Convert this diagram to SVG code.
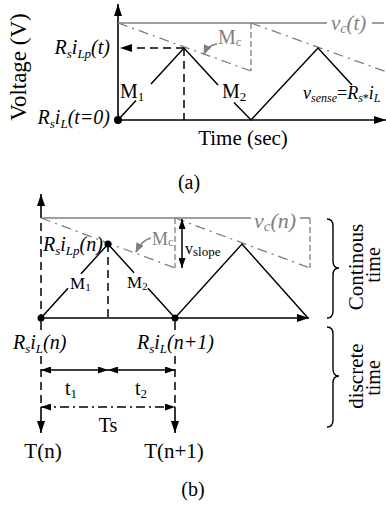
<svg xmlns="http://www.w3.org/2000/svg" width="386" height="507" viewBox="0 0 386 507">
<style>
text{font-family:"Liberation Serif","Times New Roman",serif;fill:#000}
.it{font-style:italic}
.gt{fill:#7f7f7f}
.ln{stroke:#000;stroke-width:1.5;fill:none}
.ax{stroke:#000;stroke-width:1.6;fill:none}
.dash{stroke:#000;stroke-width:1.5;fill:none;stroke-dasharray:8 5}
.dd{stroke:#000;stroke-width:1.3;fill:none;stroke-dasharray:9 4 2 4}
.gl{stroke:#7f7f7f;stroke-width:1.5;fill:none}
.gdd{stroke:#7f7f7f;stroke-width:1.3;fill:none;stroke-dasharray:10 5 2 5}
.gdash{stroke:#7f7f7f;stroke-width:1.3;fill:none;stroke-dasharray:6 3}
.br{stroke:#000;stroke-width:1.4;fill:none}
</style>
<defs>
<marker id="ah" viewBox="0 0 12 8" refX="12" refY="4" markerWidth="12" markerHeight="8" markerUnits="userSpaceOnUse" orient="auto-start-reverse"><path d="M0,0 L12,4 L0,8 z" fill="#000"/></marker>
<marker id="ahs" viewBox="0 0 10 7" refX="10" refY="3.5" markerWidth="10" markerHeight="7" markerUnits="userSpaceOnUse" orient="auto-start-reverse"><path d="M0,0 L10,3.5 L0,7 z" fill="#000"/></marker>
<marker id="ahg" viewBox="0 0 10 8" refX="9" refY="4" markerWidth="10" markerHeight="8" markerUnits="userSpaceOnUse" orient="auto"><path d="M0,0 L10,4 L0,8 z" fill="#7f7f7f"/></marker>
</defs>

<g id="connectors">
<!-- panel (a) -->
<line class="ax" x1="118" y1="120" x2="118" y2="4" marker-end="url(#ah)"/>
<line class="ax" x1="118" y1="120" x2="386" y2="120" marker-end="url(#ah)"/>
<line class="gl" x1="118" y1="23" x2="327" y2="23"/>
<line class="gl" x1="372" y1="23" x2="384" y2="23"/>
<line class="gdd" x1="118" y1="23" x2="251" y2="71"/>
<line class="gdash" x1="251" y1="23" x2="251" y2="71"/>
<line class="gdd" x1="251" y1="23" x2="386" y2="71.7"/>
<polyline class="ln" points="118,120 136,100.4"/>
<polyline class="ln" points="151,84 184,48 218,85"/>
<polyline class="ln" points="234,102.5 251,120 318,48 352,85"/>
<line class="dash" x1="184" y1="48" x2="120" y2="48" marker-end="url(#ah)"/>
<line class="dash" x1="184" y1="48" x2="184" y2="120"/>
<path class="gl" d="M217,44 Q208,45 204,54" marker-end="url(#ahg)"/>
<circle cx="118" cy="120" r="4" fill="#000"/>

<!-- panel (b) -->
<line class="ax" x1="41" y1="218" x2="41" y2="194" marker-end="url(#ah)"/>
<line class="ax" x1="41" y1="318" x2="309" y2="318" marker-end="url(#ah)"/>
<line class="gl" x1="41" y1="218" x2="251" y2="218"/>
<line class="gl" x1="300" y1="218" x2="310" y2="218"/>
<line class="gdash" x1="310" y1="218" x2="310" y2="268"/>
<line class="gdd" x1="41" y1="218" x2="175" y2="268"/>
<line class="gdash" x1="175" y1="218" x2="175" y2="268"/>
<line class="gdd" x1="175" y1="218" x2="310" y2="268"/>
<line class="dash" x1="41" y1="223" x2="41" y2="318"/>
<line class="dash" x1="108" y1="244" x2="108" y2="318"/>
<polyline class="ln" points="41,318 68,288.2"/>
<polyline class="ln" points="81,273.8 108,244 134,272.7"/>
<polyline class="ln" points="148,288.2 175,318 242,244 308,318"/>
<line class="ln" x1="182" y1="219" x2="182" y2="268" marker-start="url(#ahs)" marker-end="url(#ahs)"/>
<path class="gl" d="M151,238 Q142,240 136,252" marker-end="url(#ahg)"/>
<circle cx="41" cy="318" r="3.5" fill="#000"/>
<circle cx="108" cy="244" r="3.5" fill="#000"/>
<circle cx="175" cy="318" r="3.5" fill="#000"/>
<line class="ln" x1="41" y1="318" x2="41" y2="330"/>
<line class="ln" x1="175" y1="318" x2="175" y2="330"/>
<line class="dash" x1="41" y1="356" x2="41" y2="407"/>
<line class="dash" x1="175" y1="356" x2="175" y2="407"/>
<line class="ln" x1="41" y1="370" x2="108" y2="370" marker-start="url(#ahs)" marker-end="url(#ahs)"/>
<line class="ln" x1="108" y1="370" x2="175" y2="370" marker-start="url(#ahs)" marker-end="url(#ahs)"/>
<line class="dd" x1="41" y1="407" x2="175" y2="407" marker-start="url(#ahs)" marker-end="url(#ahs)"/>
<line class="ax" x1="41" y1="407" x2="41" y2="433" marker-end="url(#ah)"/>
<line class="ax" x1="175" y1="407" x2="175" y2="433" marker-end="url(#ah)"/>
<path class="br" d="M327,219 Q333,219 333,226 L333,261 Q333,268 339,268 Q333,268 333,275 L333,311 Q333,318 327,318"/>
<path class="br" d="M327,327 Q333,327 333,334 L333,369 Q333,376 339,376 Q333,376 333,383 L333,420 Q333,427 327,427"/>
</g>

<g id="panel-a-labels">
<text x="26" y="67" font-size="23" text-anchor="middle" transform="rotate(-90 26 67)">Voltage (V)</text>
<text class="it" x="110" y="54" font-size="20" text-anchor="end">R<tspan font-size="13" dy="4">s</tspan><tspan dy="-4">i</tspan><tspan font-size="13" dy="4">Lp</tspan><tspan dy="-4">(t)</tspan></text>
<text class="it" x="110" y="124" font-size="20" text-anchor="end">R<tspan font-size="13" dy="4">s</tspan><tspan dy="-4">i</tspan><tspan font-size="13" dy="4">L</tspan><tspan dy="-4">(t=0)</tspan></text>
<text x="120" y="98" font-size="20">M<tspan font-size="13" dy="3">1</tspan></text>
<text x="222" y="98" font-size="20">M<tspan font-size="13" dy="3">2</tspan></text>
<text class="gt" x="218" y="44" font-size="20">M<tspan font-size="13" dy="2">c</tspan></text>
<text class="it gt" x="331" y="30" font-size="21">v<tspan font-size="14" dy="3">c</tspan><tspan dy="-3">(t)</tspan></text>
<text x="303" y="99" font-size="18"><tspan class="it">v</tspan><tspan class="it" font-size="12" dy="3">sense</tspan><tspan dy="-3">=</tspan><tspan class="it">R</tspan><tspan class="it" font-size="12" dy="3">s</tspan><tspan font-size="12">*</tspan><tspan class="it" dy="-3">i</tspan><tspan class="it" font-size="12" dy="3">L</tspan></text>
<text x="243" y="145" font-size="21" text-anchor="middle">Time (sec)</text>
<text x="189" y="189" font-size="20" text-anchor="middle">(a)</text>
</g>

<g id="panel-b-labels">
<text class="it" x="43" y="251" font-size="20">R<tspan font-size="13" dy="4">s</tspan><tspan dy="-4">i</tspan><tspan font-size="13" dy="4">Lp</tspan><tspan dy="-4">(n)</tspan></text>
<text x="70" y="289" font-size="17">M<tspan font-size="11" dy="2">1</tspan></text>
<text x="127" y="288" font-size="17">M<tspan font-size="11" dy="2">2</tspan></text>
<text class="gt" x="152" y="245" font-size="18">M<tspan font-size="12" dy="1">c</tspan></text>
<text x="185" y="254" font-size="16">v<tspan font-size="13" dy="2">slope</tspan></text>
<text class="it gt" x="254" y="228" font-size="22">v<tspan font-size="15" dy="3">c</tspan><tspan dy="-3">(n)</tspan></text>
<text class="it" x="13" y="349" font-size="20">R<tspan font-size="13" dy="4">s</tspan><tspan dy="-4">i</tspan><tspan font-size="13" dy="4">L</tspan><tspan dy="-4">(n)</tspan></text>
<text class="it" x="137" y="349" font-size="20">R<tspan font-size="13" dy="4">s</tspan><tspan dy="-4">i</tspan><tspan font-size="13" dy="4">L</tspan><tspan dy="-4">(n+1)</tspan></text>
<text x="65" y="395" font-size="20">t<tspan font-size="13" dy="3">1</tspan></text>
<text x="135" y="395" font-size="20">t<tspan font-size="13" dy="3">2</tspan></text>
<text x="108" y="432" font-size="20" text-anchor="middle">Ts</text>
<text x="43" y="458" font-size="21" text-anchor="middle">T(n)</text>
<text x="174" y="458" font-size="21" text-anchor="middle">T(n+1)</text>
<text x="193" y="496" font-size="20" text-anchor="middle">(b)</text>
</g>

<g id="time-braces">
<text x="363" y="267" font-size="21" text-anchor="middle" transform="rotate(-90 363 267)">Continous</text>
<text x="380" y="265" font-size="20" text-anchor="middle" transform="rotate(-90 380 265)">time</text>
<text x="363" y="376" font-size="21" text-anchor="middle" transform="rotate(-90 363 376)">discrete</text>
<text x="380" y="378" font-size="20" text-anchor="middle" transform="rotate(-90 380 378)">time</text>
</g>
</svg>
